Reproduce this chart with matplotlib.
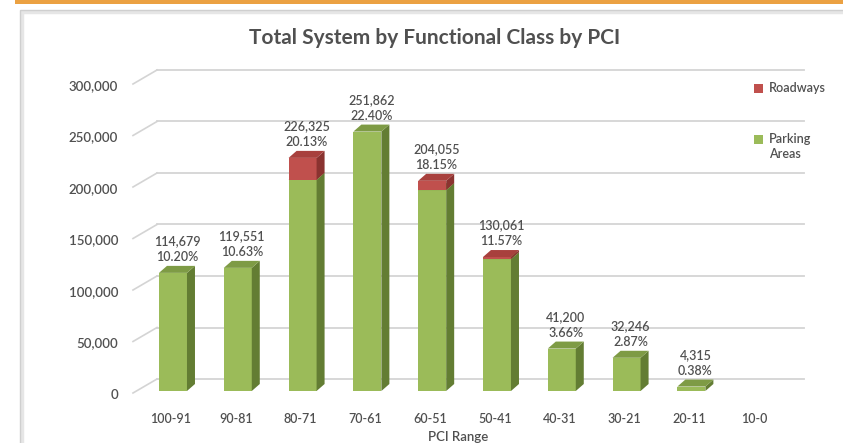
import numpy as np
import matplotlib.pyplot as plt
from matplotlib.patches import Polygon, Rectangle

# ---------- data ----------
pci_ranges = ["100-91", "90-81", "80-71", "70-61", "60-51",
              "50-41", "40-31", "30-21", "20-11", "10-0"]
parking = [114679, 119551, 205000, 251862, 195000, 128000, 41200, 32246, 4315, 0]
roadways = [0, 0, 21325, 0, 9055, 2061, 0, 0, 0, 0]
total_labels = ["114,679", "119,551", "226,325", "251,862", "204,055",
                "130,061", "41,200", "32,246", "4,315", ""]
pct_labels = ["10.20%", "10.63%", "20.13%", "22.40%", "18.15%",
              "11.57%", "3.66%", "2.87%", "0.38%", ""]
y_ticks = [0, 50000, 100000, 150000, 200000, 250000, 300000]

# colours (front, side, top)
green = ("#9BBB59", "#637D33", "#7E9B45")
red = ("#C0504D", "#8A3330", "#A8403D")
txt = "#505050"
grid = "#D4D4D4"

W, H = 843, 443
plt.rcParams['font.family'] = ['Lato', 'DejaVu Sans']
fig = plt.figure(figsize=(W / 100, H / 100), dpi=100)


def fx(p):
    return p / W


def fy(p):
    return 1 - p / H


# chart frame + orange strip
fig.patches.append(Rectangle((fx(22), fy(445)), fx(830), fy(12) - fy(445),
                             transform=fig.transFigure, fill=False,
                             edgecolor="#E6E6E6", lw=2.5))
fig.patches.append(Rectangle((fx(20), fy(445)), fx(830), fy(10) - fy(445),
                             transform=fig.transFigure, fill=False,
                             edgecolor="#CFCFCF", lw=1))
fig.patches.append(Rectangle((fx(15), fy(4)), fx(830), fy(0) - fy(4),
                             transform=fig.transFigure, color="#EBA142", lw=0))

ax = fig.add_axes([fx(133), fy(391), fx(804) - fx(133), fy(82) - fy(391)])
ax.set_xlim(-0.617, 9.738)
ax.set_ylim(0, 300000)
ax.axis('off')


def px(dx, dy):
    # pixel offset -> data offset
    o = ax.transData.transform((0, 0))
    return ax.transData.inverted().transform(o + np.array([dx, dy]))


x0, x1 = ax.get_xlim()
wall = px(24, 12)
depth = px(8, 7)
lab = px(15, 4)

# back wall gridlines with diagonal to the front tick position
for t in y_ticks:
    ax.plot([x0, x0 + wall[0]], [t - px(0, 2)[1], t + wall[1]], color=grid,
            lw=1.2, clip_on=False, zorder=1)
    ax.plot([x0 + wall[0], x1], [t + wall[1]] * 2, color=grid, lw=1.3,
            clip_on=False, zorder=1)
    ax.text(x0 - lab[0], t - lab[1], f"{t:,}", ha='right', va='center',
            fontsize=9.5, color=txt, weight='semibold')

# 3d-looking stacked bars
w = 28 / 64.8
for i in range(len(pci_ranges)):
    base = 0
    for vals, col in ((parking, green), (roadways, red)):
        h = vals[i]
        if h <= 0:
            continue
        ax.bar(i, h, w, bottom=base, color=col[0], lw=0, zorder=3)
        r = i + w / 2
        l = i - w / 2
        ax.add_patch(Polygon([(r, base), (r + depth[0], base + depth[1]),
                              (r + depth[0], base + h + depth[1]), (r, base + h)],
                             closed=True, color=col[1], lw=0, zorder=3))
        top = base + h
        ax.add_patch(Polygon([(l, top), (l + depth[0], top + depth[1]),
                              (r + depth[0], top + depth[1]), (r, top)],
                             closed=True, color=col[2], lw=0, zorder=3))
        base += h
    if total_labels[i]:
        ax.text(i + depth[0] / 2, base + depth[1] + px(0, 3)[1],
                f"{total_labels[i]}\n{pct_labels[i]}", ha='center', va='bottom',
                fontsize=9, color=txt, linespacing=1.35, zorder=4,
                weight='semibold')
    ax.text(i - px(2, 0)[0], -px(0, 28)[1], pci_ranges[i], ha='center',
            va='center', fontsize=9, color=txt, clip_on=False, weight='semibold')

ax.text(4.5 - px(6, 0)[0], -px(0, 46)[1], "PCI Range", ha='center',
        va='center', fontsize=9.5, color=txt, clip_on=False, weight='semibold')

# title
fig.text(fx(435), fy(38), "Total System by Functional Class by PCI",
         ha='center', va='center', fontsize=15, weight='bold', color=txt)

# legend
fig.patches.append(Rectangle((fx(754), fy(93)), fx(9), fy(84) - fy(93),
                             transform=fig.transFigure, color=red[0], lw=0))
fig.text(fx(769), fy(88), "Roadways", ha='left', va='center', fontsize=9,
         color=txt, weight='semibold')
fig.patches.append(Rectangle((fx(754), fy(144)), fx(9), fy(135) - fy(144),
                             transform=fig.transFigure, color=green[0], lw=0))
fig.text(fx(769), fy(133), "Parking\nAreas", ha='left', va='top', fontsize=9,
         color=txt, linespacing=1.35, weight='semibold')

fig.savefig("out.png", dpi=100, facecolor="white")
